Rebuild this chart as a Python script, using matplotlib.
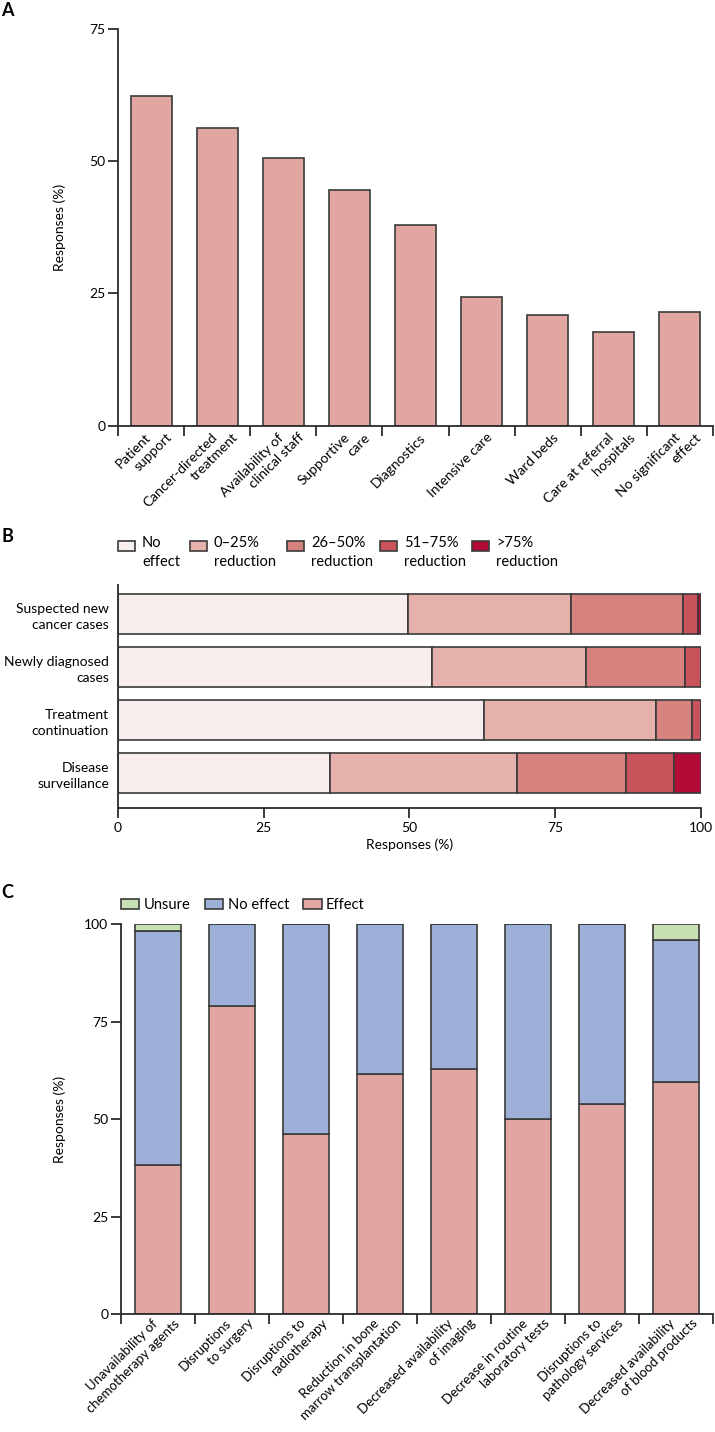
import numpy as np
import matplotlib
matplotlib.use('Agg')
import matplotlib.pyplot as plt
from matplotlib.patches import Rectangle

plt.rcParams['font.family'] = ['Lato', 'DejaVu Sans']
plt.rcParams['font.size'] = 10

# Panel A: services affected
services = ['Patient\nsupport', 'Cancer-directed\ntreatment', 'Availability of\nclinical staff',
            'Supportive\ncare', 'Diagnostics', 'Intensive care', 'Ward beds',
            'Care at referral\nhospitals', 'No significant\neffect']
service_pct = [62.2, 56.3, 50.5, 44.5, 37.9, 24.3, 21.0, 17.7, 21.4]

# Panel B: reduction in volume by stage
stages = ['Suspected new\ncancer cases', 'Newly diagnosed\ncases', 'Treatment\ncontinuation',
          'Disease\nsurveillance']
levels = ['No\neffect', '0–25%\nreduction', '26–50%\nreduction', '51–75%\nreduction', '>75%\nreduction']
no_effect_b = [49.8, 53.8, 62.8, 36.3]
red_0_25 = [27.9, 26.4, 29.4, 32.1]
red_26_50 = [19.2, 17.1, 6.2, 18.8]
red_51_75 = [2.6, 2.7, 1.6, 8.1]
red_gt_75 = [0.5, 0.0, 0.0, 4.7]

# Panel C: disruptions
disruptions = ['Unavailability of\nchemotherapy agents', 'Disruptions\nto surgery',
               'Disruptions to\nradiotherapy', 'Reduction in bone\nmarrow transplantation',
               'Decreased availability\nof imaging', 'Decrease in routine\nlaboratory tests',
               'Disruptions to\npathology services', 'Decreased availability\nof blood products']
effect_c = [38.4, 78.9, 46.3, 61.7, 62.8, 50.1, 53.9, 59.5]
no_effect_c = [59.8, 21.1, 53.7, 38.3, 37.2, 49.9, 46.1, 36.4]
unsure_c = [1.8, 0, 0, 0, 0, 0, 0, 4.1]

pink = '#e1a6a1'
edge = '#3a3a3a'
axcol = '#2b2b2b'
b_colors = ['#f9eeee', '#e6b0ad', '#d6827f', '#c8535a', '#b30b37']

fig = plt.figure(figsize=(7.15, 14.32), dpi=100)
axA = fig.add_axes([0.165, 0.7027, 0.8322, 0.2773])
axB = fig.add_axes([0.165, 0.4358, 0.8154, 0.1557])
axC = fig.add_axes([0.1692, 0.0821, 0.828, 0.2726])

for ax in (axA, axB, axC):
    ax.spines['top'].set_visible(False)
    ax.spines['right'].set_visible(False)
    for s in ('left', 'bottom'):
        ax.spines[s].set_linewidth(1.3)
        ax.spines[s].set_color(axcol)
    ax.tick_params(direction='out', length=7, width=1.3, color=axcol, pad=2, labelsize=10)


def rotated_labels(ax, labels, step=15, base=3, pad=4, size=10):
    # each line placed separately so the line ends sit on one level
    for i, lab in enumerate(labels):
        lines = lab.split('\n')
        n = len(lines)
        for j, line in enumerate(lines):
            dx = base + (j - (n - 1) / 2) * step
            ax.annotate(line, xy=(i, 0), xycoords=('data', 'axes fraction'),
                        xytext=(dx, -pad), textcoords='offset points',
                        rotation=45, rotation_mode='anchor', ha='right', va='top',
                        fontsize=size, annotation_clip=False)


# ---- A ----
xa = np.arange(len(services))
axA.bar(xa, service_pct, width=0.62, color=pink, edgecolor=edge, linewidth=1.2)
axA.set_xlim(-0.5, len(services) - 0.5)
axA.set_ylim(0, 75)
axA.set_yticks([0, 25, 50, 75])
axA.set_xticks(np.arange(len(services) + 1) - 0.5)
axA.set_xticklabels([])
axA.set_ylabel('Responses (%)', fontsize=10)
axA.yaxis.set_label_coords(-0.087, 0.5)
rotated_labels(axA, services)

# ---- B ----
yb = np.arange(len(stages))
series_b = [no_effect_b, red_0_25, red_26_50, red_51_75, red_gt_75]
left = np.zeros(len(stages))
for vals, col in zip(series_b, b_colors):
    axB.barh(yb, vals, left=left, height=0.75, color=col, edgecolor=edge, linewidth=1.2)
    left += np.array(vals)
axB.set_xlim(0, 100)
axB.set_ylim(3.66, -0.55)
axB.set_xticks([0, 25, 50, 75, 100])
axB.set_yticks(yb)
axB.set_yticklabels(stages, fontsize=10, linespacing=1.4)
axB.tick_params(axis='y', length=0, pad=6.5)
axB.tick_params(axis='x', pad=3)
axB.set_xlabel('Responses (%)', fontsize=10, labelpad=3)

# manual legend for B (two-line labels)
leg_x = [0.0, 0.1235, 0.290, 0.4494, 0.6072]
for lx, col, lab in zip(leg_x, b_colors, levels):
    axB.add_patch(Rectangle((lx, 1.152), 0.029, 0.045, transform=axB.transAxes,
                            facecolor=col, edgecolor=edge, linewidth=1.2, clip_on=False))
    axB.text(lx + 0.041, 1.218, lab, transform=axB.transAxes, ha='left', va='top',
             fontsize=10.5, linespacing=1.4)

# ---- C ----
xc = np.arange(len(disruptions))
b_eff = axC.bar(xc, effect_c, width=0.62, color=pink, edgecolor=edge, linewidth=1.2)
b_no = axC.bar(xc, no_effect_c, bottom=effect_c, width=0.62, color='#9eb0d7',
               edgecolor=edge, linewidth=1.2)
bottom_u = np.array(effect_c) + np.array(no_effect_c)
b_un = axC.bar(xc, unsure_c, bottom=bottom_u, width=0.62, color='#c6e0b4',
               edgecolor=edge, linewidth=1.2)
axC.set_xlim(-0.5, len(disruptions) - 0.5)
axC.set_ylim(0, 100)
axC.set_yticks([0, 25, 50, 75, 100])
axC.set_xticks(np.arange(len(disruptions) + 1) - 0.5)
axC.set_xticklabels([])
axC.set_ylabel('Responses (%)', fontsize=10)
axC.yaxis.set_label_coords(-0.093, 0.5)
rotated_labels(axC, disruptions, step=16, pad=2, size=9.5)
axC.legend([b_un, b_no, b_eff], ['Unsure', 'No effect', 'Effect'], ncol=3,
           loc='center left', bbox_to_anchor=(0, 1.048), frameon=False,
           handlelength=1.25, handleheight=0.7, handletextpad=0.3,
           columnspacing=1.0, borderpad=0, borderaxespad=0, fontsize=10.5)

# panel letters
fig.text(0.002, 0.9985, 'A', fontsize=13, fontweight='bold', va='top', ha='left')
fig.text(0.002, 0.6313, 'B', fontsize=13, fontweight='bold', va='top', ha='left')
fig.text(0.002, 0.3827, 'C', fontsize=13, fontweight='bold', va='top', ha='left')

fig.savefig('out.png', dpi=100)
